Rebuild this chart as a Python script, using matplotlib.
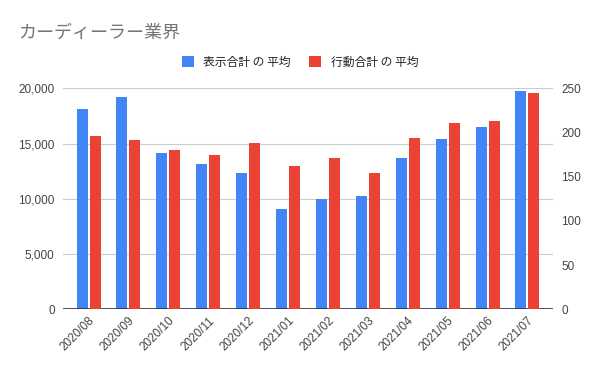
import matplotlib
matplotlib.use("Agg")
import matplotlib.pyplot as plt
import numpy as np
from matplotlib.patches import Patch

categories = ["2020/08", "2020/09", "2020/10", "2020/11", "2020/12", "2021/01",
              "2021/02", "2021/03", "2021/04", "2021/05", "2021/06", "2021/07"]
display_avg = [18100, 19200, 14150, 13150, 12330, 9080, 9980, 10250, 13700, 15400, 16500, 19750]
action_avg = [196, 191.5, 180, 174.5, 188, 162.5, 171, 154, 194, 211, 213, 244.5]
series_names = ["表示合計 の 平均", "行動合計 の 平均"]
title = "カーディーラー業界"
left_ticks = [0, 5000, 10000, 15000, 20000]
right_ticks = [0, 50, 100, 150, 200, 250]

BLUE = "#4285F4"
RED = "#EA4335"
CJK = ["Noto Sans CJK JP", "DejaVu Sans"]
LAT = ["Liberation Sans", "DejaVu Sans"]

fig = plt.figure(figsize=(6, 3.71), dpi=100)
ax = fig.add_axes([63/600, 1-309.3/371, 490/600, (309.3-88.3)/371])
ax2 = ax.twinx()

x = np.arange(len(categories))
w = 0.275
off = 0.1625
ax.bar(x - off, display_avg, width=w, color=BLUE, zorder=3)
ax2.bar(x + off, action_avg, width=w, color=RED, zorder=3)

ax.set_xlim(-0.64, len(categories) - 1 + 0.64)
ax.set_ylim(0, 20000)
ax2.set_ylim(0, 250)
ax.set_yticks(left_ticks)
ax.set_yticklabels([f"{v:,}" for v in left_ticks], fontfamily=LAT, fontsize=8.5, color="#444444")
ax2.set_yticks(right_ticks)
ax2.set_yticklabels([str(v) for v in right_ticks], fontfamily=LAT, fontsize=8.5, color="#444444")
ax.set_xticks(x)
ax.set_xticklabels(categories, rotation=45, ha="right", rotation_mode="anchor",
                   fontfamily=LAT, fontsize=8.5, color="#444444")

ax.grid(axis="y", color="#cccccc", linewidth=0.8, zorder=0)
ax.set_axisbelow(True)
for a in (ax, ax2):
    for s in a.spines.values():
        s.set_visible(False)
    a.tick_params(length=0, pad=6)
ax.tick_params(axis="x", pad=4)
ax.axhline(0, color="#333333", linewidth=1.2, zorder=4)

fig.text(18/600, 1-33/371, title, fontfamily=CJK, fontsize=13, color="#757575", va="center")

handles = [Patch(facecolor=BLUE, edgecolor="none"), Patch(facecolor=RED, edgecolor="none")]
fig.legend(handles, series_names, loc="center", bbox_to_anchor=(0.5, 1-62/371), ncol=2,
           frameon=False, prop={"family": CJK, "size": 8.5}, handlelength=1.0, handleheight=1.0,
           handletextpad=0.8, columnspacing=1.6, labelcolor="#222222")

fig.savefig("out.png", dpi=100, facecolor="white")
